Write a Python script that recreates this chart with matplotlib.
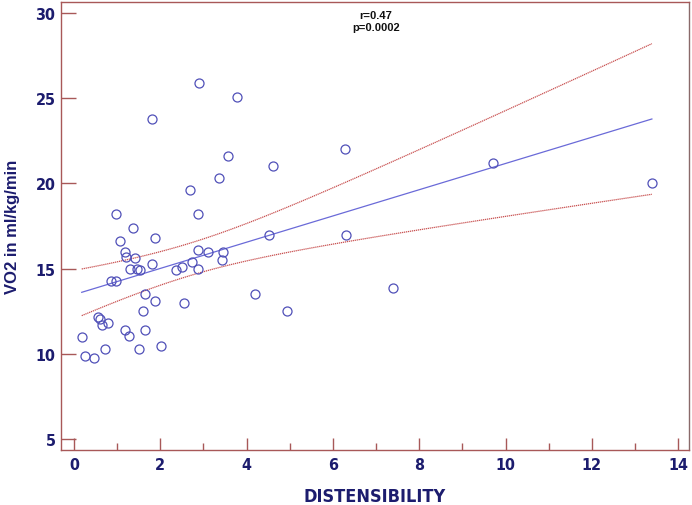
import numpy as np
import matplotlib.pyplot as plt

# distensibility vs VO2
distensibility = [2.90, 3.78, 1.81, 3.56, 4.61, 3.35, 2.69, 0.97, 2.87, 1.37,
                  1.07, 1.87, 2.87, 3.11, 3.45, 1.19, 1.21, 1.42, 1.81, 2.73,
                  3.42, 1.31, 1.47, 1.52, 2.37, 2.51, 2.87, 0.87, 0.98, 1.65,
                  1.87, 2.54, 1.61, 0.56, 0.60, 0.64, 0.79, 1.19, 1.27, 1.64,
                  0.18, 0.72, 1.50, 2.02, 0.25, 0.46, 4.20, 4.52, 4.94, 6.27,
                  9.72, 13.39, 6.30, 7.39]
vo2 = [25.9, 25.1, 23.8, 21.6, 21.0, 20.3, 19.6, 18.2, 18.2, 17.4,
       16.6, 16.8, 16.1, 16.0, 16.0, 16.0, 15.7, 15.6, 15.25, 15.37,
       15.5, 15.0, 15.0, 14.9, 14.9, 15.1, 15.0, 14.3, 14.3, 13.5,
       13.1, 13.0, 12.5, 12.15, 12.05, 11.7, 11.8, 11.4, 11.05, 11.4,
       11.0, 10.25, 10.25, 10.47, 9.86, 9.75, 13.5, 17.0, 12.5, 22.0,
       21.2, 20.0, 17.0, 13.86]
x_ticks = [0, 2, 4, 6, 8, 10, 12, 14]
y_ticks = [5, 10, 15, 20, 25, 30]
stats_text = 'r=0.47\np=0.0002'

x = np.array(distensibility)
y = np.array(vo2)

# regression line with 95% confidence band
n = len(x)
b, a = np.polyfit(x, y, 1)
xs = np.linspace(x.min(), x.max(), 100)
fit = a + b * xs
resid = y - (a + b * x)
s = np.sqrt(np.sum(resid ** 2) / (n - 2))
se = s * np.sqrt(1 / n + (xs - x.mean()) ** 2 / np.sum((x - x.mean()) ** 2))
t = 2.007
upper = fit + t * se
lower = fit - t * se

spine_col = '#a85858'
navy = '#1c1c6e'

fig = plt.figure(figsize=(6.92, 5.06), dpi=100)
ax = fig.add_axes([61 / 692, 1 - 451 / 506, 628 / 692, 448 / 506])

ax.plot(xs, fit, color='#6a6ad8', lw=0.9)
ax.plot(xs, upper, color='#c85050', lw=0.9, linestyle=(0, (1, 0.6)))
ax.plot(xs, lower, color='#c85050', lw=0.9, linestyle=(0, (1, 0.6)))
ax.plot(x, y, 'o', mfc='none', mec='#5050b8', ms=6.5, mew=0.9)

ax.text(7.0, 29.55, stats_text, ha='center', va='center', fontsize=8,
        fontweight='bold', color='#111111', linespacing=1.25,
        family='Liberation Sans')

ax.set_xlim(-0.3, 14.25)
ax.set_ylim(4.35, 30.65)
ax.set_xticks(x_ticks)
ax.set_xticks(range(1, 14, 2), minor=True)
ax.set_yticks(y_ticks)

for sp in ax.spines.values():
    sp.set_color(spine_col)
    sp.set_linewidth(1.0)
ax.spines['right'].set_color('#8a6a6a')

ax.tick_params(axis='x', which='major', direction='in', length=9, width=1,
               color=spine_col, pad=5, labelsize=11.5, labelcolor=navy)
ax.tick_params(axis='x', which='minor', direction='in', length=5, width=1,
               color=spine_col)
ax.tick_params(axis='y', direction='in', length=11, width=1, color=spine_col,
               pad=4, labelsize=11.5, labelcolor=navy)
for lab in ax.get_xticklabels() + ax.get_yticklabels():
    lab.set_fontweight('bold')
    lab.set_family('DejaVu Sans')
    lab.set_fontstretch('condensed')

ax.set_xlabel('DISTENSIBILITY', fontsize=13, fontweight='bold', color=navy,
              family='DejaVu Sans', fontstretch='condensed', labelpad=11)
ax.set_ylabel('VO2 in ml/kg/min', fontsize=12, fontweight='bold', color=navy,
              family='Liberation Sans')
ax.yaxis.set_label_coords(-0.066, 0.5)

fig.savefig('out.png', dpi=100)
